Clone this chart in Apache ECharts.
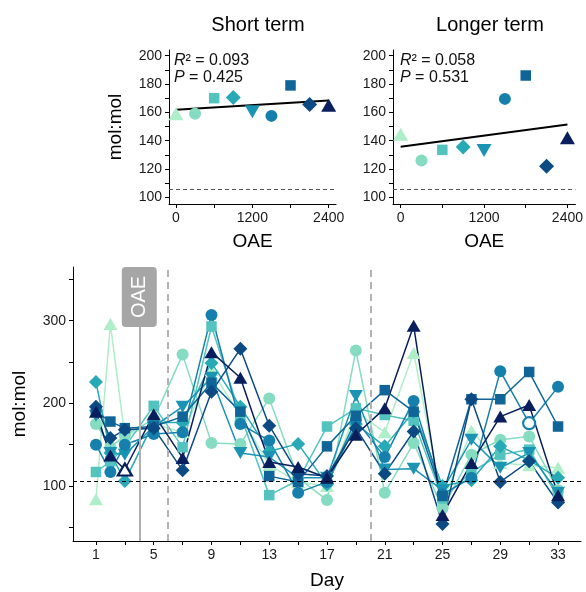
<!DOCTYPE html>
<html>
<head>
<meta charset="utf-8">
<script src="https://cdn.jsdelivr.net/npm/echarts@6/dist/echarts.min.js"></script>
<style>
  html, body { margin: 0; padding: 0; background: #ffffff; }
  #chart { width: 586px; height: 592px; }
</style>
</head>
<body>
<div id="chart"></div>
<script>
// OAE dose levels and the sampling days
const oaeLevels = [0, 300, 600, 900, 1200, 1500, 1800, 2100, 2400];
const days = [1, 2, 3, 5, 7, 9, 11, 13, 15, 17, 19, 21, 23, 25, 27, 29, 31, 33];

// Mean ratio per OAE level (upper panels)
const shortTerm  = [159, 159, 170, 170.5, 160.5, 157.5, 179, 165.5, 165];
const longerTerm = [144.5, 126, 133.5, 135.5, 133, 169.5, 186, 122, 142];

// Time series per OAE level (lower panel), one value per sampling day
const oae0    = [84, 296, 160, 175, 165, 240, 185, 125, 105, 100, 190, 165, 261, 80, 167, 128, 125, 122];
const oae300  = [175, 147, 161, 181, 259, 152, 151, 206, 110, 83, 264, 92, 152, 73, 138, 156, 160, 95];
const oae600  = [117, 130, 147, 197, 147, 293, 186, 89, 107, 172, 194, 186, 179, 85, 117, 138, 144, 87];
const oae900  = [226, 140, 106, 177, 177, 249, 196, 142, 151, 102, 175, 148, 190, 100, 107, 148, 131, 110];
const oae1200 = [185, 140, 138, 172, 196, 231, 140, 135, 110, 110, 209, 120, 121, 95, 156, 122, 140, 92];
const oae1500 = [150, 117, 150, 163, 165, 307, 175, 155, 92, 105, 180, 135, 203, 90, 110, 239, 176, 220];
const oae1800 = [190, 178, 170, 172, 184, 225, 190, 112, 105, 148, 185, 216, 190, 88, 205, 205, 238, 172];
const oae2100 = [196, 158, 168, 170, 119, 214, 266, 173, 115, 112, 170, 115, 166, 54, 205, 105, 130, 80];
const oae2400 = [190, 137, 120, 187, 134, 262, 231, 129, 123, 110, 162, 194, 294, 65, 128, 184, 198, 89];
const seriesValues = [oae0, oae300, oae600, oae900, oae1200, oae1500, oae1800, oae2100, oae2400];

// Points drawn as hollow markers: [OAE level, day]
const openPoints = [[2400, 3], [1500, 31]];

// Reference level and event days
const refLevel = 105.5;
const oaeDay = 4;
const phaseDays = [6, 20];

// Axis ticks and labels
const topYTicks = [100, 110, 120, 130, 140, 150, 160, 170, 180, 190, 200];
const topYLabels = [100, 120, 140, 160, 180, 200];
const topXTicks = [0, 600, 1200, 1800, 2400];
const topXLabels = [0, 1200, 2400];
const dayTicks = [1, 3, 5, 7, 9, 11, 13, 15, 17, 19, 21, 23, 25, 27, 29, 31, 33];
const dayLabels = [1, 5, 9, 13, 17, 21, 25, 29, 33];
const ratioTicks = [50, 100, 150, 200, 250, 300, 350];
const ratioLabels = [100, 200, 300];

// Fit statistics printed in the panels
const shortStats = { r2: '0.093', p: '0.425' };
const longStats  = { r2: '0.058', p: '0.531' };

// ---- styling ----
const colors = ['#aeeec8', '#86dcc0', '#52c3bf', '#27aab6', '#1b93b3', '#1680ad', '#0f6598', '#0c4a84', '#091e5c'];
const diamond = 'path://M0,-10L10,0L0,10L-10,0Z';
const shapes = ['triangle', 'circle', 'rect', diamond, 'triangle', 'circle', 'rect', diamond, 'triangle'];
const rotations = [0, 0, 0, 0, 180, 0, 0, 0, 0];
const bigSizes = [[15, 13], 12, 10.5, [15, 15], [15, 13], 12, 10.5, [15, 15], [15, 13]];
const smallSizes = [[14, 12], 12, 10.5, [14, 14], [14, 12], 12, 10.5, [14, 14], [14, 12]];
const FONT = 'Liberation Sans';

function linFit(xs, ys) {
  const n = xs.length;
  const mx = xs.reduce((a, b) => a + b, 0) / n;
  const my = ys.reduce((a, b) => a + b, 0) / n;
  let sxy = 0, sxx = 0;
  for (let i = 0; i < n; i++) { sxy += (xs[i] - mx) * (ys[i] - my); sxx += (xs[i] - mx) ** 2; }
  const b = sxy / sxx;
  return { a: my - b * mx, b: b };
}

function axisBase(gridIndex, min, max, ticks, labels, extra) {
  return Object.assign({
    type: 'value', gridIndex: gridIndex, min: min, max: max,
    axisLine: { show: true, onZero: false, lineStyle: { color: '#000', width: 1 } },
    axisTick: { show: true, customValues: ticks, length: 4, lineStyle: { color: '#000', width: 1 } },
    axisLabel: { customValues: labels, color: '#1a1a1a', fontSize: 14, fontFamily: FONT, margin: 7,
      formatter: function (v) { return String(v); } },
    splitLine: { show: false },
    nameTextStyle: { color: '#000', fontSize: 19, fontFamily: FONT }
  }, extra || {});
}

const grids = [
  { left: 169, top: 50, width: 167, height: 154 },
  { left: 393, top: 50, width: 183, height: 154 },
  { left: 73, top: 267, width: 508, height: 274 }
];

const xAxes = [
  axisBase(0, -110, 2515, topXTicks, topXLabels, { name: 'OAE', nameLocation: 'middle', nameGap: 28 }),
  axisBase(1, -110, 2515, topXTicks, topXLabels, { name: 'OAE', nameLocation: 'middle', nameGap: 28 }),
  axisBase(2, -0.59, 34.59, dayTicks, dayLabels, { name: 'Day', nameLocation: 'middle', nameGap: 30 })
];
const yAxes = [
  axisBase(0, 95.3, 204, topYTicks, topYLabels, { name: 'mol:mol', nameLocation: 'middle', nameGap: 44 }),
  axisBase(1, 95.3, 204, topYTicks, topYLabels),
  axisBase(2, 33.5, 365, ratioTicks, ratioLabels, { name: 'mol:mol', nameLocation: 'middle', nameGap: 44 })
];

const series = [];

// Upper panels: reference line, fit line, points
[shortTerm, longerTerm].forEach(function (vals, g) {
  const fit = linFit(oaeLevels, vals);
  series.push({
    type: 'line', xAxisIndex: g, yAxisIndex: g, data: [], z: 1, silent: true,
    markLine: {
      silent: true, symbol: 'none', label: { show: false }, animation: false,
      data: [{ yAxis: refLevel, lineStyle: { color: '#555', type: [4, 3], width: 1 } }]
    }
  });
  series.push({
    type: 'line', xAxisIndex: g, yAxisIndex: g, z: 2, silent: true, symbol: 'none',
    lineStyle: { color: '#000', width: 2 },
    data: [[0, fit.a], [2400, fit.a + fit.b * 2400]]
  });
  oaeLevels.forEach(function (lvl, i) {
    series.push({
      type: 'scatter', xAxisIndex: g, yAxisIndex: g, z: 3,
      symbol: shapes[i], symbolRotate: rotations[i], symbolSize: bigSizes[i],
      itemStyle: { color: colors[i], opacity: 1 },
      data: [[lvl, vals[i]]]
    });
  });
});

// Lower panel: reference lines
series.push({
  type: 'line', xAxisIndex: 2, yAxisIndex: 2, data: [], z: 1, silent: true,
  markLine: {
    silent: true, symbol: 'none', label: { show: false }, animation: false,
    data: [
      { xAxis: oaeDay, lineStyle: { color: '#b0b0b0', type: 'solid', width: 2 } },
      { xAxis: phaseDays[0], lineStyle: { color: '#b3b3b3', type: [7, 5], width: 2 } },
      { xAxis: phaseDays[1], lineStyle: { color: '#b3b3b3', type: [7, 5], width: 2 } },
      { yAxis: refLevel, lineStyle: { color: '#000', type: [4, 3], width: 1 } }
    ]
  }
});

// Lower panel: lines, then markers on top
seriesValues.forEach(function (vals, i) {
  series.push({
    type: 'line', xAxisIndex: 2, yAxisIndex: 2, z: 2, silent: true, symbol: 'none',
    lineStyle: { color: colors[i], width: 1.5 },
    data: days.map(function (d, j) { return [d, vals[j]]; })
  });
});
seriesValues.forEach(function (vals, i) {
  series.push({
    type: 'scatter', xAxisIndex: 2, yAxisIndex: 2, z: 3,
    symbol: shapes[i], symbolRotate: rotations[i], symbolSize: smallSizes[i],
    itemStyle: { color: colors[i], opacity: 1 },
    data: days.map(function (d, j) {
      const isOpen = openPoints.some(function (p) { return p[0] === oaeLevels[i] && p[1] === d; });
      if (isOpen) {
        return { value: [d, vals[j]], itemStyle: { color: '#ffffff', borderColor: colors[i], borderWidth: 2.2 } };
      }
      return [d, vals[j]];
    })
  });
});

function statText(s) {
  return '{i|R}² = ' + s.r2 + '\n{i|P} = ' + s.p;
}
const statRich = { i: { fontStyle: 'italic', fontSize: 16, fontFamily: FONT, fill: '#111' } };

const chart = echarts.init(document.getElementById('chart'), null, { renderer: 'canvas' });
chart.setOption({
  animation: false,
  backgroundColor: '#ffffff',
  textStyle: { fontFamily: FONT },
  title: [
    { text: 'Short term', left: 253, top: 10, textAlign: 'center',
      textStyle: { fontSize: 20, fontWeight: 'normal', color: '#000', fontFamily: FONT } },
    { text: 'Longer term', left: 485, top: 10, textAlign: 'center',
      textStyle: { fontSize: 20, fontWeight: 'normal', color: '#000', fontFamily: FONT } }
  ],
  grid: grids,
  xAxis: xAxes,
  yAxis: yAxes,
  series: series
});

// Annotations placed from axis coordinates
const sTop = chart.convertToPixel({ gridIndex: 0 }, [-110, 204]);
const lTop = chart.convertToPixel({ gridIndex: 1 }, [-110, 204]);
const oaePx = chart.convertToPixel({ gridIndex: 2 }, [oaeDay, 365]);
chart.setOption({
  graphic: [
    { type: 'text', left: sTop[0] + 5, top: sTop[1] + 2, z: 10,
      style: { text: statText(shortStats), rich: statRich, font: '16px ' + FONT, fill: '#111', lineHeight: 17 } },
    { type: 'text', left: lTop[0] + 7, top: lTop[1] + 2, z: 10,
      style: { text: statText(longStats), rich: statRich, font: '16px ' + FONT, fill: '#111', lineHeight: 17 } },
    { type: 'rect', z: 20, shape: { x: oaePx[0] - 17.5, y: oaePx[1], width: 35, height: 60, r: 4 },
      style: { fill: '#a6a6a6' } },
    { type: 'text', z: 21, x: oaePx[0], y: oaePx[1] + 30, rotation: Math.PI / 2,
      style: { text: 'OAE', fill: '#ffffff', font: '20px ' + FONT, align: 'center', verticalAlign: 'middle' } }
  ]
});
</script>
</body>
</html>
